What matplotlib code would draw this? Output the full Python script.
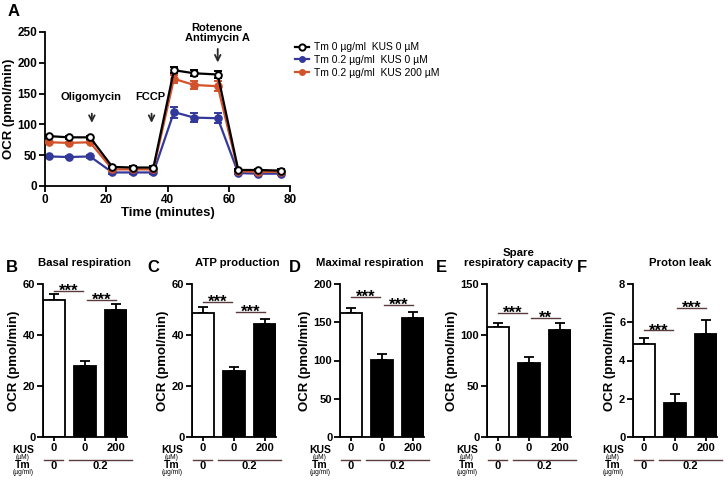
import numpy as np
import matplotlib
matplotlib.use('Agg')
import matplotlib.pyplot as plt
from matplotlib.lines import Line2D

plt.rcParams['font.family'] = ['Liberation Sans', 'DejaVu Sans']
plt.rcParams['font.weight'] = 'bold'
plt.rcParams['axes.labelweight'] = 'bold'

# ---- panel A data ----
time = [1.3, 7.8, 14.7, 22.0, 28.6, 35.4, 42.1, 48.7, 56.4, 63.1, 69.5, 77.0]
ocr_ctrl = [81, 79, 79, 31, 30, 30, 188, 183, 181, 26, 26, 25]
err_ctrl = [2, 2, 2, 2, 2, 2, 5, 5, 5, 2, 2, 2]
ocr_tm = [48, 47, 48, 22, 22, 22, 120, 111, 110, 21, 20, 20]
err_tm = [2, 2, 2, 2, 2, 2, 9, 7, 8, 2, 2, 2]
ocr_kus = [71, 70, 71, 27, 27, 27, 174, 164, 162, 24, 23, 23]
err_kus = [2, 2, 2, 2, 2, 2, 7, 7, 8, 2, 2, 2]
series_labels = ['Tm 0 \u00b5g/ml  KUS 0 \u00b5M',
                 'Tm 0.2 \u00b5g/ml  KUS 0 \u00b5M',
                 'Tm 0.2 \u00b5g/ml  KUS 200 \u00b5M']

# ---- bar panels data ----
panel_letters = ['B', 'C', 'D', 'E', 'F']
panel_titles = ['Basal respiration', 'ATP production', 'Maximal respiration',
                'Spare\nrespiratory capacity', 'Proton leak']
bar_means = [[53.8, 28.0, 49.7],
             [48.6, 26.0, 44.3],
             [161.6, 100.4, 155.0],
             [107.8, 73.0, 104.6],
             [4.88, 1.77, 5.4]]
bar_errs = [[2.2, 1.7, 2.5],
            [2.2, 1.5, 1.9],
            [7.0, 8.0, 8.8],
            [4.2, 5.4, 7.2],
            [0.32, 0.48, 0.7]]
sig_heights = [[57.4, 53.6],
               [53.1, 49.2],
               [182.5, 172.5],
               [121.6, 116.7],
               [5.57, 6.75]]
sig_stars = [['***', '***'], ['***', '***'], ['***', '***'],
             ['***', '**'], ['***', '***']]
y_tops = [60, 60, 200, 150, 8]
y_steps = [20, 20, 50, 50, 2]
kus_labels = ['0', '0', '200']
tm_labels = ['0', '0.2']

W, H = 728, 482
fig = plt.figure(figsize=(W / 100, H / 100), dpi=100)


def px_axes(l, t, w, h):
    return fig.add_axes([l / W, 1 - (t + h) / H, w / W, h / H])


def style_axes(ax, size):
    for s in ['top', 'right']:
        ax.spines[s].set_visible(False)
    for s in ['left', 'bottom']:
        ax.spines[s].set_linewidth(1.3)
    ax.tick_params(width=1.3, length=4, labelsize=size, pad=1.5)
    for lab in ax.get_xticklabels() + ax.get_yticklabels():
        lab.set_fontweight('bold')


# ---------------- panel A ----------------
axA = px_axes(45, 32, 245, 154)
blue = '#33399a'
red = '#d2522b'
for y, e, c, mfc, z in [(ocr_tm, err_tm, blue, blue, 2),
                        (ocr_kus, err_kus, red, red, 3),
                        (ocr_ctrl, err_ctrl, 'black', 'white', 4)]:
    axA.errorbar(time, y, yerr=e, color=c, lw=1.6, marker='o', ms=4.8,
                 mfc=mfc, mec=c, mew=1.4, capsize=3, elinewidth=1.3,
                 capthick=1.3, zorder=z)
axA.set_xlim(0, 80)
axA.set_ylim(0, 250)
axA.set_xticks([0, 20, 40, 60, 80])
axA.set_yticks([0, 50, 100, 150, 200, 250])
axA.set_xlabel('Time (minutes)', fontsize=9.5, labelpad=1)
axA.set_ylabel('OCR (pmol/min)', fontsize=9.5, labelpad=2)
style_axes(axA, 8.5)

arrow_kw = dict(arrowstyle='->', color='#2a2a2a', lw=1.3, mutation_scale=10)
axA.annotate('', xy=(15.3, 98), xytext=(15.3, 122), arrowprops=arrow_kw)
axA.text(15.0, 145, 'Oligomycin', ha='center', va='center', fontsize=8)
axA.annotate('', xy=(34.8, 98), xytext=(34.8, 122), arrowprops=arrow_kw)
axA.text(34.5, 145, 'FCCP', ha='center', va='center', fontsize=8)
axA.annotate('', xy=(56.4, 196), xytext=(56.4, 227), arrowprops=arrow_kw,
             annotation_clip=False)
axA.text(56.2, 249, 'Rotenone\nAntimycin A', ha='center', va='center',
         fontsize=8, linespacing=1.0, clip_on=False)

handles = [Line2D([], [], color='black', lw=1.6, marker='o', ms=4.5, mfc='white', mec='black', mew=1.4),
           Line2D([], [], color=blue, lw=1.6, marker='o', ms=4.0, mfc=blue, mec=blue),
           Line2D([], [], color=red, lw=1.6, marker='o', ms=4.0, mfc=red, mec=red)]
fig.legend(handles, series_labels,
           loc='upper left', bbox_to_anchor=(286 / W, 1 - 33 / H),
           frameon=False, handlelength=1.3, handletextpad=0.5,
           labelspacing=0.25, prop={'size': 7.5, 'weight': 'normal'})

fig.text(8 / W, 1 - 11 / H, 'A', fontsize=12, fontweight='bold',
         ha='left', va='center')

# ---------------- bar panels ----------------
lefts = [43, 192, 340, 487, 633]
letter_x = [6, 147, 289, 436, 577]
title_x = [84, 237, 370, 519, 680]
pos = np.arange(3)
line_col = '#5a3a3a'
for i in range(5):
    ax = px_axes(lefts[i], 284, 84, 153)
    ax.bar(pos, bar_means[i], width=0.7, color=['white', 'black', 'black'],
           edgecolor='black', linewidth=1.3, zorder=2)
    ax.errorbar(pos, bar_means[i], yerr=[[0, 0, 0], bar_errs[i]], fmt='none',
                ecolor='black', elinewidth=1.3, capsize=3.5, capthick=1.3,
                zorder=1)
    ax.set_xlim(-0.35, 2.35)
    ax.set_ylim(0, y_tops[i])
    ax.set_yticks(np.arange(0, y_tops[i] + y_steps[i] / 2, y_steps[i]))
    ax.set_xticks(pos)
    ax.set_xticklabels(kus_labels)
    ax.set_ylabel('OCR (pmol/min)', fontsize=9.5, labelpad=2)
    style_axes(ax, 8)
    ax.tick_params(axis='x', length=3, pad=1)

    # significance lines
    for (x0, x1), h, s in zip([(0, 0.95), (1.05, 2.0)], sig_heights[i], sig_stars[i]):
        ax.plot([x0, x1], [h, h], color=line_col, lw=1.0, clip_on=False)
        ax.annotate(s, xy=((x0 + x1) / 2, h), xytext=(0, -3.5),
                    textcoords='offset points', ha='center', va='baseline',
                    fontsize=12, annotation_clip=False)

    fig.text(title_x[i] / W, 1 - 268 / H, panel_titles[i], fontsize=8.2,
             fontweight='bold', ha='center', va='bottom', linespacing=1.0)

    tr = ax.get_xaxis_transform()
    ax.text(-0.24, -0.085, 'KUS', transform=ax.transAxes, ha='center',
            va='center', fontsize=7.5)
    ax.text(-0.24, -0.135, '(\u00b5M)', transform=ax.transAxes, ha='center',
            va='center', fontsize=4.8, fontweight='normal')
    ax.text(-0.24, -0.185, 'Tm', transform=ax.transAxes, ha='center',
            va='center', fontsize=7.5)
    ax.text(-0.24, -0.235, '(\u00b5g/ml)', transform=ax.transAxes, ha='center',
            va='center', fontsize=4.8, fontweight='normal')
    ax.plot([-0.33, 0.3], [-0.15, -0.15], transform=tr, color=line_col,
            lw=1.0, clip_on=False)
    ax.plot([0.49, 2.52], [-0.15, -0.15], transform=tr, color=line_col,
            lw=1.0, clip_on=False)
    ax.text(0, -0.19, tm_labels[0], transform=tr, ha='center', va='center',
            fontsize=8)
    ax.text(1.5, -0.19, tm_labels[1], transform=tr, ha='center', va='center',
            fontsize=8)

    fig.text(letter_x[i] / W, 1 - 268 / H, panel_letters[i], fontsize=12,
             fontweight='bold', ha='left', va='center')

fig.savefig('out.png', dpi=100)
